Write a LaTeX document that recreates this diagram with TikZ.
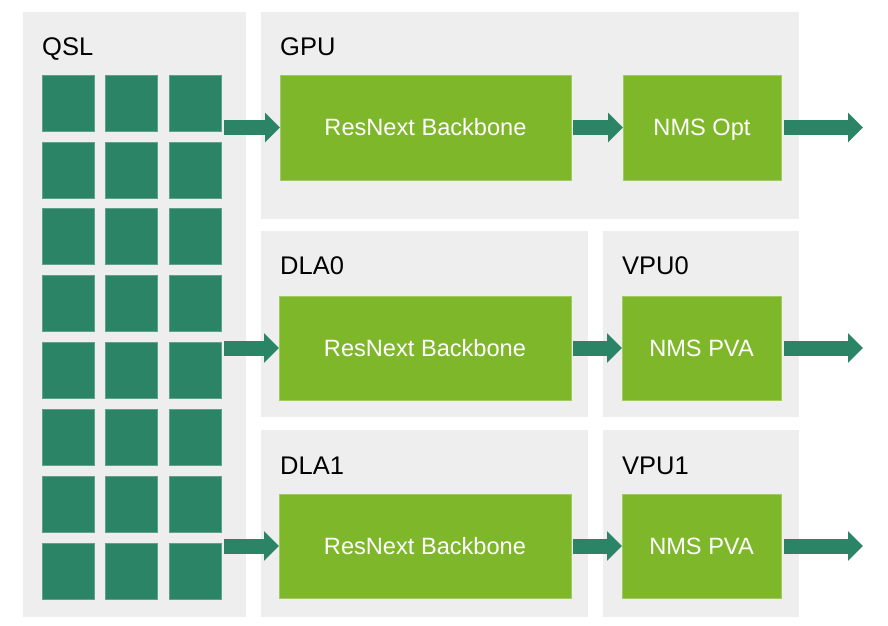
\documentclass[tikz,border=0pt]{standalone}
\usepackage{fontspec}
\setmainfont{Liberation Sans}
\usetikzlibrary{arrows.meta}
\definecolor{panelgray}{HTML}{EEEEEE}
\definecolor{nvgreen}{HTML}{7FB72A}
\definecolor{nvgreenedge}{HTML}{9FCB63}
\definecolor{tealsq}{HTML}{2B8465}
\definecolor{tealedge}{HTML}{5FA28A}
\begin{document}
\begin{tikzpicture}[x=1pt,y=-1pt,
  panel/.style={fill=panelgray},
  plabel/.style={anchor=base west,inner sep=0pt,font=\fontsize{25.5}{30}\selectfont,text=black},
  gbox/.style={fill=nvgreen,draw=nvgreenedge,line width=0.8pt,inner sep=0pt,outer sep=0pt,
    text=white,font=\fontsize{23.6}{28}\selectfont,text height=16.5pt,text depth=0pt},
  sqbox/.style={fill=tealsq,draw=tealedge,line width=0.6pt,inner sep=0pt,outer sep=0pt,
    minimum width=52,minimum height=56},
  flow/.style={draw=tealsq,line width=15pt,-{Triangle[length=15pt,width=29pt]}}]
\useasboundingbox (0,0) rectangle (888,625);
% panels
\fill[panel] (23,12) rectangle (246,617);
\fill[panel] (261,12) rectangle (799,219);
\fill[panel] (261,231) rectangle (588,417);
\fill[panel] (603,231) rectangle (799,417);
\fill[panel] (261,430) rectangle (588,617);
\fill[panel] (603,430) rectangle (799,617);
% panel labels
\node[plabel] (lqsl) at (42,55) {QSL};
\node[plabel] (lgpu) at (280,55) {GPU};
\node[plabel] (ldla0) at (280,274) {DLA0};
\node[plabel] (lvpu0) at (622,274) {VPU0};
\node[plabel] (ldla1) at (280,474) {DLA1};
\node[plabel] (lvpu1) at (622,474) {VPU1};
% QSL grid
\foreach \r in {0,...,7}{
  \foreach \c in {0,1,2}{
    \node[sqbox] (sq-\r-\c) at ({68+63.5*\c},{103+66.86*\r}) {};
  }
}
% processing boxes
\node[gbox,minimum width=291,minimum height=105] (gpuR) at (425.5,127.5) {ResNext Backbone};
\node[gbox,minimum width=158,minimum height=105] (gpuN) at (702,127.5) {NMS Opt};
\node[gbox,minimum width=292,minimum height=104] (dla0R) at (425,348) {ResNext Backbone};
\node[gbox,minimum width=159,minimum height=104] (vpu0N) at (701.5,348) {NMS PVA};
\node[gbox,minimum width=292,minimum height=104] (dla1R) at (425,546) {ResNext Backbone};
\node[gbox,minimum width=159,minimum height=104] (vpu1N) at (701.5,546) {NMS PVA};
% output ends
\coordinate (out0) at (863,127.5);
\coordinate (out1) at (863,348);
\coordinate (out2) at (863,546);
% arrows
\draw[flow,shorten <=3pt] (sq-0-2.east |- gpuR.west) -- (gpuR.west);
\draw[flow,shorten <=3pt] (sq-4-2.east |- dla0R.west) -- (dla0R.west);
\draw[flow,shorten <=3pt] (sq-7-2.east |- dla1R.west) -- (dla1R.west);
\draw[flow,shorten <=2pt] (gpuR.east) -- (gpuN.west);
\draw[flow,shorten <=2pt] (dla0R.east) -- (vpu0N.west);
\draw[flow,shorten <=2pt] (dla1R.east) -- (vpu1N.west);
\draw[flow,shorten <=3pt] (gpuN.east) -- (out0);
\draw[flow,shorten <=3pt] (vpu0N.east) -- (out1);
\draw[flow,shorten <=3pt] (vpu1N.east) -- (out2);
\end{tikzpicture}
\end{document}
